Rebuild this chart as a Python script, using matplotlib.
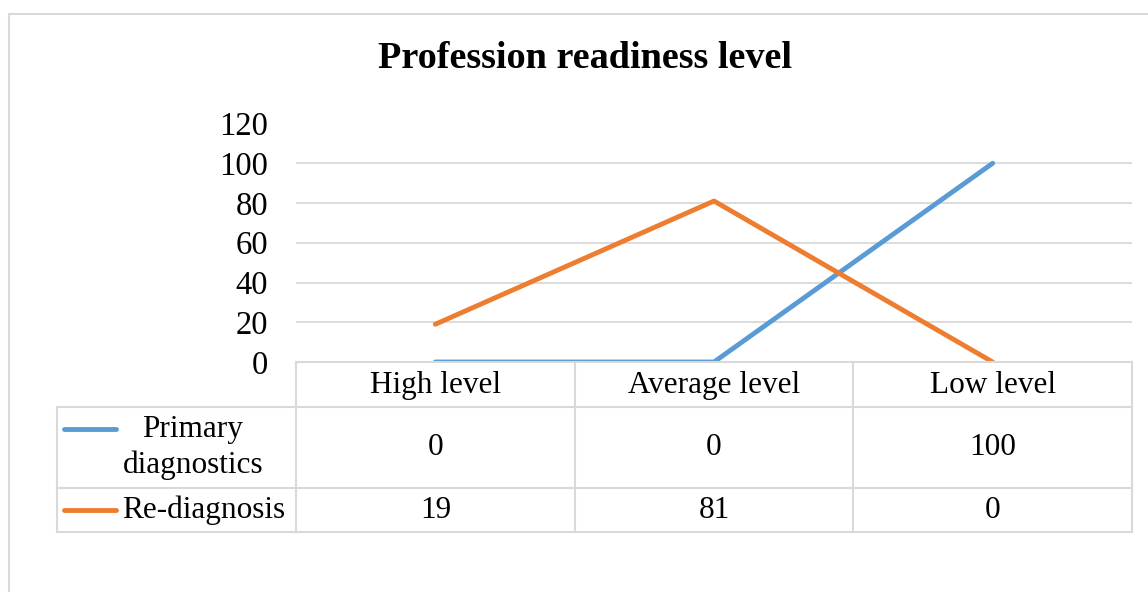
import matplotlib.pyplot as plt
from matplotlib.lines import Line2D

plt.rcParams['font.family'] = ['Liberation Serif', 'DejaVu Serif']

categories = ["High level", "Average level", "Low level"]
series_names = ["Primary\ndiagnostics", "Re-diagnosis"]
primary = [0, 0, 100]
rediag = [19, 81, 0]
yticks = [0, 20, 40, 60, 80, 100, 120]
colors = ["#5B9BD5", "#ED7D31"]
grid_c = "#D9D9D9"

W, H = 1148, 592
fig = plt.figure(figsize=(W / 100, H / 100), dpi=100)


def fx(px):
    return px / W


def fy(py):
    return 1 - py / H


# outer chart frame (only top/left visible in the crop)
fig.add_artist(Line2D([fx(8.5), fx(8.5)], [fy(13.5), 0], color=grid_c, lw=1.5))
fig.add_artist(Line2D([fx(8.5), 1], [fy(13.5), fy(13.5)], color=grid_c, lw=1.5))

x0, x1 = 296, 1132
ytop, ybot = 123.5, 362
ax = fig.add_axes([fx(x0), fy(ybot), fx(x1) - fx(x0), (ybot - ytop) / H])
xs = range(len(categories))
ax.plot(xs, primary, color=colors[0], lw=3.5, solid_capstyle='round', zorder=3)
ax.plot(xs, rediag, color=colors[1], lw=3.5, solid_capstyle='round', zorder=3)
ax.set_xlim(-0.5, len(categories) - 0.5)
ax.set_ylim(0, 120)
ax.set_yticks(yticks)
ax.set_xticks([])
for s in ax.spines.values():
    s.set_visible(False)
ax.grid(axis='y', color=grid_c, lw=1.3)
ax.set_axisbelow(True)
ax.tick_params(axis='y', length=0, labelsize=23.5, pad=20)
ax.patch.set_alpha(0)

fig.text(fx(585), fy(59), "Profession readiness level", ha='center', va='center',
         fontsize=27.5, fontweight='bold')

# data table
tab_left = 57
rows_y = [362, 406.5, 488, 532]
col_x = [x0 + (x1 - x0) * i / 3 for i in range(4)]


def hline(y, xa, xb):
    fig.add_artist(Line2D([fx(xa), fx(xb)], [fy(y), fy(y)], color=grid_c, lw=1.5))


def vline(x, ya, yb):
    fig.add_artist(Line2D([fx(x), fx(x)], [fy(ya), fy(yb)], color=grid_c, lw=1.5))


hline(rows_y[0], x0, x1)
for y in rows_y[1:]:
    hline(y, tab_left, x1)
for x in col_x:
    vline(x, rows_y[0], rows_y[3])
vline(tab_left, rows_y[1], rows_y[3])

for i, c in enumerate(categories):
    fig.text(fx((col_x[i] + col_x[i + 1]) / 2), fy((rows_y[0] + rows_y[1]) / 2 + 1), c,
             ha='center', va='center', fontsize=22.5)

for r, (name, vals) in enumerate(zip(series_names, [primary, rediag])):
    yc = (rows_y[r + 1] + rows_y[r + 2]) / 2
    for i, v in enumerate(vals):
        fig.text(fx((col_x[i] + col_x[i + 1]) / 2), fy(yc), str(v),
                 ha='center', va='center', fontsize=22.5)
    # legend key
    ly = yc - 18 if r == 0 else yc
    fig.add_artist(Line2D([fx(64), fx(116)], [fy(ly), fy(ly)], color=colors[r], lw=3.5,
                          solid_capstyle='round'))
    tx = 193 if r == 0 else 204
    fig.text(fx(tx), fy(yc), name, ha='center', va='center', fontsize=22.5,
             linespacing=1.3)

fig.savefig("out.png", dpi=100)
